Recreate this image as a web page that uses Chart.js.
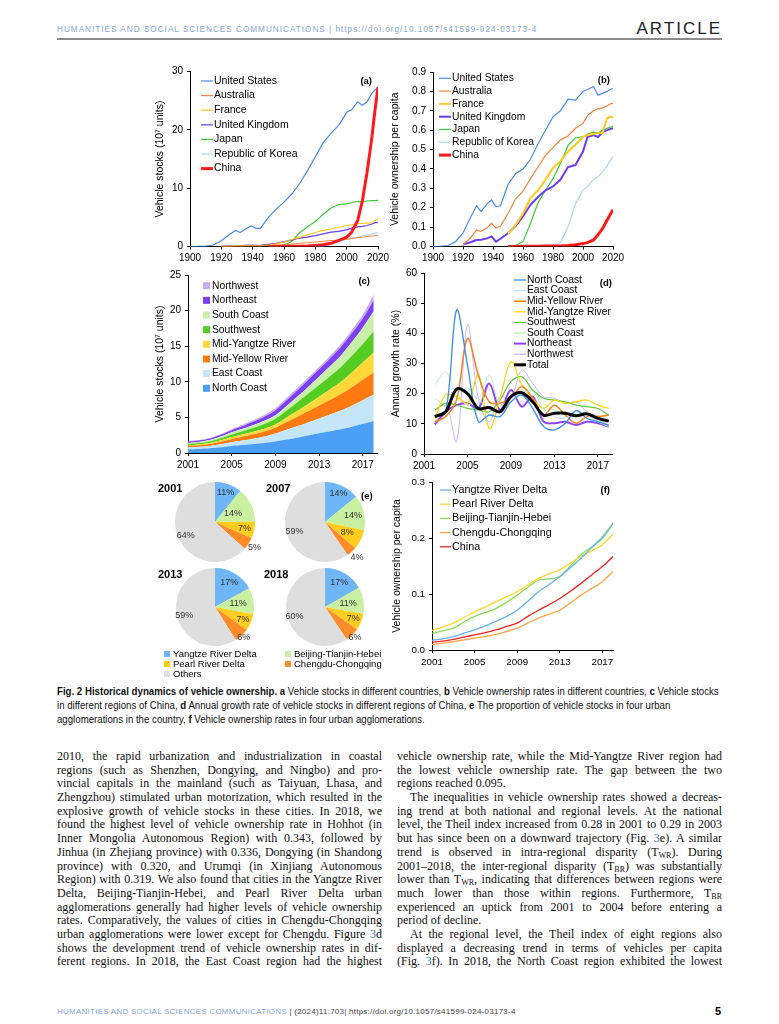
<!DOCTYPE html>
<html>
<head>
<meta charset="utf-8">
<script src="https://cdn.jsdelivr.net/npm/chart.js@4.4.1/dist/chart.umd.min.js"></script>
<style>
body{margin:0;background:#fff;}
#page{position:relative;width:779px;height:1024px;overflow:hidden;font-family:"Liberation Sans",Arial,sans-serif;color:#000;background:#fff;}
canvas{position:absolute;}
.abs{position:absolute;white-space:nowrap;}
.hdr{left:57px;top:25px;font-size:8.2px;line-height:10px;letter-spacing:1px;color:#88a4dc;}
.art{right:57px;top:19px;font-size:17px;line-height:20px;letter-spacing:2px;color:#222;}
.rule{position:absolute;left:57px;top:38px;width:665px;height:1.5px;background:#8c8c8c;}
.cap{left:57px;top:684px;font-size:10.5px;line-height:14px;transform:scaleX(0.92);transform-origin:left top;color:#111;}
.col{position:absolute;top:750px;width:325px;font-family:"Liberation Serif","Times New Roman",serif;font-size:12px;color:#111;}
.ln{height:13.7px;line-height:13.7px;overflow:hidden;text-align:justify;text-align-last:justify;}
.ln.end{text-align-last:left;}
.ln.ind{padding-left:13px;}
.ln sub{font-size:8px;vertical-align:-2px;line-height:0;}
.fig{color:#3b6fd0;}
.yr{font-size:11px;font-weight:bold;line-height:12px;}
.eleg{font-size:9.5px;line-height:10px;}
.eleg span{display:inline-block;width:6px;height:6px;margin-right:3px;vertical-align:0px;}
.foot{left:57px;top:1007px;font-size:8px;line-height:10px;letter-spacing:0.25px;color:#444;}
.foot i{font-style:normal;color:#88a4dc;}
.pg{right:58px;top:1005px;font-size:11px;font-weight:bold;line-height:12px;}
</style>
</head>
<body>
<div id="page">
  <div class="abs hdr">HUMANITIES AND SOCIAL SCIENCES COMMUNICATIONS | https://doi.org/10.1057/s41599-024-03173-4</div>
  <div class="abs art">ARTICLE</div>
  <div class="rule"></div>

  <div class="abs cap">
    <div><b>Fig. 2 Historical dynamics of vehicle ownership.</b> <b>a</b> Vehicle stocks in different countries, <b>b</b> Vehicle ownership rates in different countries, <b>c</b> Vehicle stocks</div>
    <div>in different regions of China, <b>d</b> Annual growth rate of vehicle stocks in different regions of China, <b>e</b> The proportion of vehicle stocks in four urban</div>
    <div>agglomerations in the country, <b>f</b> Vehicle ownership rates in four urban agglomerations.</div>
  </div>

  <div class="col" style="left:57px">
    <div class="ln">2010, the rapid urbanization and industrialization in coastal</div>
    <div class="ln">regions (such as Shenzhen, Dongying, and Ningbo) and pro-</div>
    <div class="ln">vincial capitals in the mainland (such as Taiyuan, Lhasa, and</div>
    <div class="ln">Zhengzhou) stimulated urban motorization, which resulted in the</div>
    <div class="ln">explosive growth of vehicle stocks in these cities. In 2018, we</div>
    <div class="ln">found the highest level of vehicle ownership rate in Hohhot (in</div>
    <div class="ln">Inner Mongolia Autonomous Region) with 0.343, followed by</div>
    <div class="ln">Jinhua (in Zhejiang province) with 0.336, Dongying (in Shandong</div>
    <div class="ln">province) with 0.320, and Urumqi (in Xinjiang Autonomous</div>
    <div class="ln">Region) with 0.319. We also found that cities in the Yangtze River</div>
    <div class="ln">Delta, Beijing-Tianjin-Hebei, and Pearl River Delta urban</div>
    <div class="ln">agglomerations generally had higher levels of vehicle ownership</div>
    <div class="ln">rates. Comparatively, the values of cities in Chengdu-Chongqing</div>
    <div class="ln">urban agglomerations were lower except for Chengdu. Figure <span class="fig">3</span>d</div>
    <div class="ln">shows the development trend of vehicle ownership rates in dif-</div>
    <div class="ln">ferent regions. In 2018, the East Coast region had the highest</div>
  </div>

  <div class="col" style="left:397px">
    <div class="ln">vehicle ownership rate, while the Mid-Yangtze River region had</div>
    <div class="ln">the lowest vehicle ownership rate. The gap between the two</div>
    <div class="ln end">regions reached 0.095.</div>
    <div class="ln ind">The inequalities in vehicle ownership rates showed a decreas-</div>
    <div class="ln">ing trend at both national and regional levels. At the national</div>
    <div class="ln">level, the Theil index increased from 0.28 in 2001 to 0.29 in 2003</div>
    <div class="ln">but has since been on a downward trajectory (Fig. <span class="fig">3</span>e). A similar</div>
    <div class="ln">trend is observed in intra-regional disparity (T<sub>WR</sub>). During</div>
    <div class="ln">2001–2018, the inter-regional disparity (T<sub>BR</sub>) was substantially</div>
    <div class="ln">lower than T<sub>WR</sub>, indicating that differences between regions were</div>
    <div class="ln">much lower than those within regions. Furthermore, T<sub>BR</sub></div>
    <div class="ln">experienced an uptick from 2001 to 2004 before entering a</div>
    <div class="ln end">period of decline.</div>
    <div class="ln ind">At the regional level, the Theil index of eight regions also</div>
    <div class="ln">displayed a decreasing trend in terms of vehicles per capita</div>
    <div class="ln">(Fig. <span class="fig">3</span>f). In 2018, the North Coast region exhibited the lowest</div>
  </div>

  <div class="abs foot"><i>HUMANITIES AND SOCIAL SCIENCES COMMUNICATIONS</i> | (2024)11:703| https://doi.org/10.1057/s41599-024-03173-4</div>
  <div class="abs pg">5</div>
</div>

<script>
// (a) + (b) countries
var yearsAB = [1900,1905,1910,1915,1920,1925,1929,1932,1936,1939,1942,1945,1950,1955,1960,1965,1970,1975,1980,1985,1990,1995,2000,2003,2007,2010,2013,2016,2018,2020];
var countries = ["United States","Australia","France","United Kingdom","Japan","Republic of Korea","China"];
var countryColors = ["#4a8af0","#f4823c","#ffc81e","#6a3cf0","#3ccc3c","#a8d8f8","#ff1a1a"];

var stockUS = [0.00,0.01,0.05,0.25,1.00,2.00,2.75,2.40,3.10,3.55,3.10,3.10,5.00,6.40,7.60,9.00,10.8,13.0,15.4,17.8,19.4,20.8,23.0,23.4,24.8,24.2,24.8,26.2,26.8,27.3];
var stockAU = [null,null,null,null,0.02,0.05,0.08,0.08,0.10,0.12,0.12,0.13,0.18,0.25,0.32,0.42,0.52,0.65,0.78,0.90,1.02,1.12,1.25,1.35,1.50,1.60,1.70,1.80,1.85,1.90];
var stockFR = [null,null,null,null,0.02,0.05,0.10,0.12,0.15,0.20,0.15,0.12,0.22,0.45,0.75,1.20,1.60,2.00,2.40,2.75,3.00,3.30,3.60,3.70,3.90,3.95,4.00,4.05,4.50,4.60];
var stockUK = [null,null,null,null,0.05,0.10,0.15,0.17,0.20,0.22,0.18,0.18,0.35,0.55,0.85,1.10,1.45,1.60,1.85,2.15,2.45,2.60,2.85,3.10,3.35,3.45,3.60,3.85,4.05,4.15];
var stockJP = [null,null,null,null,null,null,null,null,null,null,null,null,0.02,0.05,0.20,0.90,2.40,3.40,4.30,5.50,6.60,7.20,7.30,7.50,7.75,7.70,7.80,7.85,7.85,7.90];
var stockKR = [null,null,null,null,null,null,null,null,null,null,null,null,null,null,null,null,null,null,0.05,0.10,0.35,0.85,1.20,1.40,1.60,1.80,1.95,2.15,2.30,2.45];
var stockCN = [null,null,null,null,null,null,null,null,null,null,null,null,0.005,0.01,0.02,0.03,0.05,0.10,0.18,0.32,0.55,1.04,1.60,2.40,4.40,7.80,12.7,18.5,23.2,27.3];

var ownUS = [0.000,0.001,0.005,0.025,0.070,0.150,0.210,0.180,0.220,0.240,0.205,0.210,0.320,0.375,0.400,0.450,0.530,0.600,0.670,0.700,0.760,0.755,0.800,0.810,0.825,0.780,0.790,0.800,0.810,0.815];
var ownAU = [null,null,null,null,0.008,0.045,0.085,0.078,0.095,0.120,0.095,0.105,0.170,0.245,0.285,0.350,0.410,0.470,0.510,0.550,0.570,0.610,0.635,0.675,0.700,0.710,0.715,0.725,0.735,0.740];
var ownFR = [null,null,null,null,null,null,null,null,null,null,null,null,0.065,0.110,0.170,0.250,0.290,0.345,0.405,0.440,0.490,0.525,0.565,0.575,0.580,0.585,0.585,0.660,0.670,0.665];
var ownUK = [null,null,null,null,0.010,0.022,0.033,0.035,0.042,0.052,0.025,0.040,0.068,0.105,0.155,0.215,0.255,0.290,0.310,0.345,0.410,0.420,0.490,0.565,0.575,0.565,0.590,0.600,0.605,0.610];
var ownJP = [null,null,null,null,null,null,null,null,null,null,null,null,0.000,0.005,0.025,0.120,0.225,0.290,0.350,0.430,0.520,0.560,0.565,0.580,0.590,0.585,0.600,0.610,0.615,0.620];
var ownKR = [null,null,null,null,null,null,null,null,null,null,null,null,null,null,null,null,null,null,0.005,0.020,0.100,0.220,0.290,0.310,0.345,0.360,0.385,0.415,0.440,0.465];
var ownCN = [null,null,null,null,null,null,null,null,null,null,null,null,0.000,0.000,0.001,0.001,0.001,0.002,0.002,0.003,0.005,0.009,0.015,0.020,0.034,0.060,0.092,0.135,0.163,0.190];

// (c) + (d) regions of China
var yearsC = [2001,2002,2003,2004,2005,2006,2007,2008,2009,2010,2011,2012,2013,2014,2015,2016,2017,2018];
var regions = ["North Coast","East Coast","Mid-Yellow River","Mid-Yangtze River","Southwest","South Coast","Northeast","Northwest"];
var regionFill = ["#4a9ff5","#c5e5f8","#ff7a10","#ffd83a","#55cc22","#c9f0a8","#7f3ff0","#c8aef6"];
var stockNC  = [0.50,0.56,0.65,0.80,1.00,1.12,1.25,1.40,1.60,1.88,2.15,2.45,2.76,3.05,3.35,3.70,4.10,4.50];
var stockEC  = [0.30,0.31,0.35,0.42,0.50,0.62,0.76,0.92,1.15,1.40,1.62,1.85,2.10,2.35,2.62,2.95,3.30,3.70];
var stockMYe = [0.20,0.22,0.27,0.36,0.47,0.55,0.62,0.70,0.80,1.05,1.30,1.55,1.80,2.05,2.30,2.60,2.90,3.10];
var stockMYa = [0.10,0.12,0.15,0.21,0.28,0.32,0.36,0.40,0.45,0.62,0.82,1.03,1.25,1.47,1.72,2.05,2.40,2.80];
var stockSW  = [0.16,0.18,0.21,0.27,0.35,0.45,0.56,0.67,0.80,1.00,1.22,1.44,1.65,1.87,2.10,2.35,2.60,3.00];
var stockSC  = [0.14,0.15,0.18,0.24,0.30,0.34,0.39,0.44,0.50,0.62,0.78,0.96,1.15,1.38,1.62,1.95,2.30,2.80];
var stockNE  = [0.20,0.20,0.21,0.25,0.30,0.38,0.47,0.57,0.70,0.80,0.90,0.98,1.05,1.12,1.18,1.24,1.30,1.60];
var stockNW  = [0.10,0.10,0.10,0.12,0.15,0.18,0.21,0.25,0.30,0.32,0.33,0.34,0.35,0.38,0.41,0.45,0.50,0.80];

var yearsD = [2002,2003,2004,2005,2006,2007,2008,2009,2010,2011,2012,2013,2014,2015,2016,2017,2018];
var regionLine = ["#3a8de8","#c0e2f7","#f5801e","#ffd400","#5fc63c","#bdeea0","#8b45f2","#cdb4f8"];
var grNC  = [12.4,14.0,47.7,29.5,10.7,12.9,12.4,17.3,19.6,15.1,9.1,8.0,10.2,14.4,11.8,10.7,9.6];
var grEC  = [23.0,27.3,20.0,21.8,18.5,26.2,16.2,18.5,20.1,20.7,15.1,12.4,11.8,14.0,12.9,10.7,9.1];
var grMYe = [10.7,12.4,18.0,38.3,26.2,17.3,16.8,18.5,22.4,18.5,12.9,16.2,12.9,10.2,12.4,12.4,12.9];
var grMYa = [11.8,19.6,19.0,16.8,26.2,8.5,18.5,30.6,22.9,18.5,15.1,17.9,16.8,17.3,17.9,16.2,15.1];
var grSW  = [14.6,16.8,16.2,15.1,14.6,14.0,17.9,24.0,25.6,21.2,18.5,17.9,17.3,16.2,15.7,15.1,12.9];
var grSC  = [18.5,16.2,19.6,16.2,18.5,12.9,16.2,17.3,20.1,21.2,16.8,14.6,13.5,12.9,14.0,10.7,9.6];
var grNE  = [9.8,14.0,16.2,16.8,15.1,23.4,14.6,21.2,15.7,19.0,10.7,10.2,10.7,9.6,10.7,10.2,9.1];
var grNW  = [14.0,16.8,4.1,42.8,18.5,10.7,19.0,18.5,27.8,23.4,19.0,18.5,16.8,17.3,14.0,12.4,8.5];
var grTotal = [12.4,14.0,21.5,20.0,15.1,15.4,14.0,19.0,20.3,17.3,12.9,13.5,13.5,12.7,13.3,11.8,10.9];

// (e) shares of four urban agglomerations
var aggNames = ["Yangtze River Delta","Beijing-Tianjin-Hebei","Pearl River Delta","Chengdu-Chongqing","Others"];
var aggColors = ["#6eb6f6","#c8f0a0","#ffcd1e","#ff8c28","#dedede"];
var pieYears = ["2001","2007","2013","2018"];
var share2001 = [11,14,7,5,64];
var share2007 = [14,14,8,4,59];
var share2013 = [17,11,7,6,59];
var share2018 = [17,11,7,6,60];

// (f) ownership in urban agglomerations
var yearsF = [2001,2002,2003,2004,2005,2006,2007,2008,2009,2010,2011,2012,2013,2014,2015,2016,2017,2018];
var fNames = ["Yangtze River Delta","Pearl River Delta","Beijing-Tianjin-Hebei","Chengdu-Chongqing","China"];
var fColors = ["#66b3f0","#ffd52e","#88dd55","#ffa347","#ee2222"];
var ownYRD = [0.017,0.020,0.024,0.030,0.036,0.043,0.051,0.060,0.071,0.087,0.104,0.117,0.131,0.147,0.164,0.183,0.202,0.226];
var ownPRD = [0.035,0.041,0.048,0.058,0.068,0.077,0.086,0.095,0.104,0.116,0.128,0.136,0.143,0.155,0.167,0.177,0.188,0.207];
var ownBTH = [0.030,0.034,0.039,0.050,0.060,0.067,0.074,0.085,0.098,0.112,0.125,0.127,0.131,0.150,0.170,0.184,0.199,0.226];
var ownCC  = [0.010,0.012,0.015,0.018,0.021,0.024,0.028,0.033,0.039,0.048,0.057,0.064,0.071,0.084,0.098,0.110,0.122,0.140];
var ownChina = [0.014,0.016,0.019,0.023,0.027,0.031,0.036,0.042,0.048,0.060,0.071,0.081,0.092,0.105,0.119,0.134,0.149,0.167];

var FONT = '"Liberation Sans", Arial, sans-serif';
Chart.defaults.font.family = FONT;
var page = document.getElementById("page");

function makeCanvas(l, t, w, h) {
    var c = document.createElement("canvas");
    c.width = w; c.height = h;
    c.style.left = l + "px"; c.style.top = t + "px";
    c.style.width = w + "px"; c.style.height = h + "px";
    page.appendChild(c);
    return c;
}

function pts(xs, ys) {
    return xs.map(function (x, i) { return {x: x, y: ys[i]}; });
}

// legend drawn inside the plot area, plus the panel tag
function inLegend(o) {
    return {
        id: "inLegend",
        afterDraw: function (chart) {
            var ctx = chart.ctx, a = chart.chartArea;
            ctx.save();
            ctx.font = o.size + "px " + FONT;
            ctx.textBaseline = "middle";
            o.items.forEach(function (idx, i) {
                var ds = chart.data.datasets[idx];
                var y = a.top + o.y + i * o.gap;
                var x0 = a.left + o.x;
                if (o.box) {
                    ctx.fillStyle = ds.backgroundColor;
                    ctx.fillRect(x0, y - 3.5, 7, 7);
                } else {
                    ctx.strokeStyle = ds.borderColor;
                    ctx.lineWidth = Math.max(ds.borderWidth, 1.2);
                    ctx.beginPath(); ctx.moveTo(x0, y); ctx.lineTo(x0 + o.len, y); ctx.stroke();
                }
                ctx.fillStyle = "#000";
                ctx.fillText(ds.label, a.left + o.tx, y);
            });
            ctx.font = "bold 9.5px " + FONT;
            ctx.textAlign = "right";
            ctx.fillText(o.tag, a.right - o.tagR, a.top + o.tagY);
            ctx.restore();
        }
    };
}

function lineChart(box, area, c) {
    var cv = makeCanvas(box.l, box.t, box.w, box.h);
    var tickFont = {size: c.tickSize || 10};
    return new Chart(cv, {
        type: "line",
        data: {datasets: c.datasets},
        options: {
            responsive: false, animation: false, events: [],
            layout: {padding: {left: 0, top: area.t - box.t, right: box.l + box.w - area.r, bottom: 0}},
            plugins: {legend: {display: false}, tooltip: {enabled: false}},
            elements: {point: {radius: 0}, line: {tension: c.tension || 0}},
            scales: {
                x: {
                    type: "linear", min: c.xMin, max: c.xMax,
                    afterBuildTicks: function (s) { s.ticks = c.xTicks.map(function (v) { return {value: v}; }); },
                    afterFit: function (s) { s.height = box.t + box.h - area.b; },
                    ticks: {font: tickFont, color: "#000", padding: 3, maxRotation: 0, autoSkip: false,
                        callback: function (v) { return String(v); }},
                    grid: {display: true, drawOnChartArea: false, tickLength: 3, color: "#000"},
                    border: {color: "#000", width: 1}
                },
                y: {
                    min: c.yMin, max: c.yMax, stacked: !!c.stacked,
                    afterFit: function (s) { s.width = area.l - box.l; },
                    ticks: {stepSize: c.yStep, font: tickFont, color: "#000", padding: 4, callback: c.yFmt},
                    grid: {display: true, drawOnChartArea: false, tickLength: 3, color: "#000"},
                    border: {color: "#000", width: 1},
                    title: {display: true, text: c.yTitle, color: "#000", font: {size: 10.5},
                        padding: {top: c.titleX - box.l - 6, bottom: 0}}
                }
            }
        },
        plugins: [inLegend(c.legend)]
    });
}

function intFmt(v) { return String(v); }
function oneDec(v) { return v.toFixed(1); }

// top: draw this line over the others
function lineSet(label, color, width, xs, ys, top) {
    return {label: label, data: pts(xs, ys), borderColor: color, backgroundColor: color,
        borderWidth: width, fill: false, spanGaps: false, order: top ? -1 : 0};
}

// (a)
lineChart({l: 140, t: 55, w: 255, h: 215}, {l: 190, t: 71.5, r: 378, b: 246.5}, {
    xMin: 1900, xMax: 2020, xTicks: [1900,1920,1940,1960,1980,2000,2020],
    yMin: 0, yMax: 30, yStep: 10, yFmt: intFmt, titleX: 160,
    yTitle: "Vehicle stocks (10\u2077 units)",
    datasets: [
        lineSet(countries[0], countryColors[0], 1.2, yearsAB, stockUS),
        lineSet(countries[1], countryColors[1], 1, yearsAB, stockAU),
        lineSet(countries[2], countryColors[2], 1.2, yearsAB, stockFR),
        lineSet(countries[3], countryColors[3], 1.2, yearsAB, stockUK),
        lineSet(countries[4], countryColors[4], 1.2, yearsAB, stockJP),
        lineSet(countries[5], countryColors[5], 1.2, yearsAB, stockKR),
        lineSet(countries[6], countryColors[6], 3, yearsAB, stockCN, true)
    ],
    legend: {items: [0,1,2,3,4,5,6], x: 11, len: 12, tx: 24, y: 9.5, gap: 14.6, size: 10.5, tag: "(a)", tagR: 6, tagY: 9.5}
});

// (b)
lineChart({l: 383, t: 55, w: 250, h: 215}, {l: 433, t: 72, r: 613, b: 246.5}, {
    xMin: 1900, xMax: 2020, xTicks: [1900,1920,1940,1960,1980,2000,2020],
    yMin: 0, yMax: 0.9, yStep: 0.1, yFmt: oneDec, titleX: 395,
    yTitle: "Vehicle ownership per capita",
    datasets: [
        lineSet(countries[0], countryColors[0], 1.2, yearsAB, ownUS),
        lineSet(countries[1], countryColors[1], 1.2, yearsAB, ownAU),
        lineSet(countries[2], countryColors[2], 2, yearsAB, ownFR),
        lineSet(countries[3], countryColors[3], 2, yearsAB, ownUK),
        lineSet(countries[4], countryColors[4], 1.2, yearsAB, ownJP),
        lineSet(countries[5], countryColors[5], 1.2, yearsAB, ownKR),
        lineSet(countries[6], countryColors[6], 3, yearsAB, ownCN, true)
    ],
    legend: {items: [0,1,2,3,4,5,6], x: 6, len: 12, tx: 19, y: 6.3, gap: 12.8, size: 10.3, tag: "(b)", tagR: 3, tagY: 8}
});

// (c) stacked areas
var stockRegions = [stockNC, stockEC, stockMYe, stockMYa, stockSW, stockSC, stockNE, stockNW];
lineChart({l: 140, t: 262, w: 255, h: 215}, {l: 188, t: 275, r: 377, b: 453}, {
    xMin: 2001, xMax: 2018.3, xTicks: [2001,2005,2009,2013,2017],
    yMin: 0, yMax: 25, yStep: 5, yFmt: intFmt, titleX: 160, stacked: true, tension: 0.3,
    yTitle: "Vehicle stocks (10\u2077 units)",
    datasets: stockRegions.map(function (vals, i) {
        return {label: regions[i], data: pts(yearsC, vals), borderWidth: 0, borderColor: regionFill[i],
            backgroundColor: regionFill[i], fill: i === 0 ? "origin" : "-1"};
    }),
    legend: {items: [7,6,5,4,3,2,1,0], box: true, x: 15, tx: 24, y: 10.7, gap: 14.66, size: 10.3, tag: "(c)", tagR: 7, tagY: 6.7}
});

// (d) growth rates
var growthRegions = [grNC, grEC, grMYe, grMYa, grSW, grSC, grNE, grNW];
var growthWidths = [1.3, 1, 1.5, 1.2, 1.2, 1, 2, 1];
var dSets = growthRegions.map(function (vals, i) {
    return lineSet(regions[i], regionLine[i], growthWidths[i], yearsD, vals);
});
dSets.push(lineSet("Total", "#000", 3, yearsD, grTotal, true));
lineChart({l: 383, t: 262, w: 250, h: 215}, {l: 424, t: 273, r: 612, b: 454}, {
    xMin: 2001, xMax: 2018.3, xTicks: [2001,2005,2009,2013,2017],
    yMin: 0, yMax: 60, yStep: 10, yFmt: intFmt, titleX: 396, tension: 0.35,
    yTitle: "Annual growth rate (%)",
    datasets: dSets,
    legend: {items: [0,1,2,3,4,5,6,7,8], x: 90, len: 12, tx: 103, y: 7, gap: 10.6, size: 10.3, tag: "(d)", tagR: 0, tagY: 10}
});

// (f)
var fSeries = [ownYRD, ownPRD, ownBTH, ownCC, ownChina];
lineChart({l: 383, t: 470, w: 250, h: 205}, {l: 432, t: 482, r: 613, b: 650}, {
    xMin: 2001, xMax: 2018, xTicks: [2001,2005,2009,2013,2017],
    yMin: 0, yMax: 0.3, yStep: 0.1, yFmt: oneDec, titleX: 397, tension: 0.3, tickSize: 9.8,
    yTitle: "Vehicle ownership per capita",
    datasets: fSeries.map(function (vals, i) { return lineSet(fNames[i], fColors[i], 1.3, yearsF, vals); }),
    legend: {items: [0,1,2,3,4], x: 8, len: 11, tx: 20, y: 8, gap: 14.2, size: 10.8, tag: "(f)", tagR: 3, tagY: 8}
});

// (e) pies
function pctLabels(fr) {
    return {
        id: "pctLabels",
        afterDraw: function (chart) {
            var ctx = chart.ctx, arcs = chart.getDatasetMeta(0).data, vals = chart.data.datasets[0].data;
            ctx.save();
            ctx.font = "9px " + FONT;
            ctx.fillStyle = "#333";
            ctx.textAlign = "center"; ctx.textBaseline = "middle";
            arcs.forEach(function (a, i) {
                var mid = (a.startAngle + a.endAngle) / 2, d = a.outerRadius * fr[i];
                ctx.fillText(vals[i] + "%", a.x + Math.cos(mid) * d, a.y + Math.sin(mid) * d);
            });
            ctx.restore();
        }
    };
}

function pieChart(cx, cy, r, values, fr) {
    var pad = 16;
    var cv = makeCanvas(cx - r - pad, cy - r - pad, 2 * (r + pad), 2 * (r + pad));
    return new Chart(cv, {
        type: "pie",
        data: {labels: aggNames, datasets: [{data: values, backgroundColor: aggColors, borderWidth: 0}]},
        options: {responsive: false, animation: false, events: [], layout: {padding: pad},
            plugins: {legend: {display: false}, tooltip: {enabled: false}}},
        plugins: [pctLabels(fr)]
    });
}

pieChart(214.5, 522, 40, share2001, [0.78, 0.5, 0.75, 1.18, 0.8]);
pieChart(324.5, 522, 40, share2007, [0.78, 0.72, 0.62, 1.2, 0.8]);
pieChart(215, 606.5, 39, share2013, [0.72, 0.6, 0.78, 1.08, 0.82]);
pieChart(324.5, 606.5, 39, share2018, [0.72, 0.6, 0.78, 1.1, 0.82]);

var yearPos = [[158, 482], [266, 482], [158, 568], [264, 568]];
pieYears.forEach(function (y, i) {
    var d = document.createElement("div");
    d.className = "abs yr";
    d.style.left = yearPos[i][0] + "px"; d.style.top = yearPos[i][1] + "px";
    d.textContent = y;
    page.appendChild(d);
});
var eTag = document.createElement("div");
eTag.className = "abs yr";
eTag.style.left = "361px"; eTag.style.top = "490px"; eTag.style.fontSize = "9.5px";
eTag.textContent = "(e)";
page.appendChild(eTag);

var legPos = [[164, 649], [285, 649], [164, 659], [285, 659], [164, 669]];
aggNames.forEach(function (n, i) {
    var d = document.createElement("div");
    d.className = "abs eleg";
    d.style.left = legPos[i][0] + "px"; d.style.top = legPos[i][1] + "px";
    d.innerHTML = '<span style="background:' + aggColors[i] + '"></span>' + n;
    page.appendChild(d);
});
</script>
</body>
</html>
